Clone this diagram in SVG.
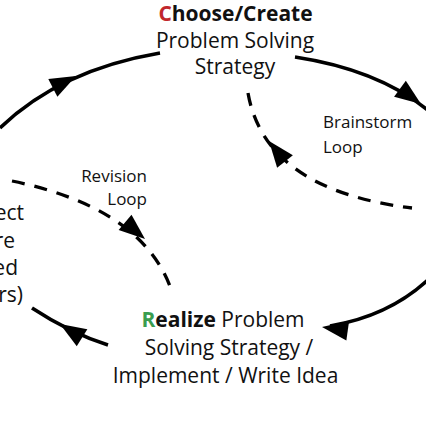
<svg xmlns="http://www.w3.org/2000/svg" xmlns:xlink="http://www.w3.org/1999/xlink" width="426" height="426" viewBox="0 0 426 426">
  <style>
    .t { font-family: "Open Sans", "Noto Sans", sans-serif; font-size: 21px; fill: #111; }
    .s { font-family: "Open Sans", "Noto Sans", sans-serif; font-size: 17px; fill: #111; }
    .b { font-weight: bold; }
    .solid { fill: none; stroke: #000; stroke-width: 3.6; stroke-linecap: butt; }
    .dash { fill: none; stroke: #000; stroke-width: 3.3; stroke-dasharray: 13 10; }
    .head { fill: #000; }
  </style>
  <defs>
    <path id="ah" class="head" d="M0,0 L-26,-10 L-26,10 Z"/>
  </defs>
  <rect width="426" height="426" fill="#fff"/>

  <g id="connectors">
    <path class="solid" d="M0 128 Q60 70 160 53"/>
    <use xlink:href="#ah" transform="translate(76,76) rotate(-27)"/>
    <path class="solid" d="M295 57 Q380 70 430 112"/>
    <use xlink:href="#ah" transform="translate(421,104) rotate(36)"/>
    <path class="solid" d="M430 278 Q390 316 330 326"/>
    <use xlink:href="#ah" transform="translate(322,327) rotate(188)"/>
    <path class="solid" d="M108 345 Q70 333 32 308"/>
    <use xlink:href="#ah" transform="translate(60,324) rotate(-148)"/>
    <path class="dash" d="M248 93 Q265 190 412 208"/>
    <use xlink:href="#ah" transform="translate(269,141) rotate(-128)"/>
    <path class="dash" d="M12 181 C80 195 150 225 172 292"/>
    <use xlink:href="#ah" transform="translate(145,239) rotate(40)"/>
  </g>

  <g id="node-choose">
    <text class="t b" x="235.5" y="21" text-anchor="middle"><tspan fill="#c1272d">C</tspan>hoose/Create</text>
    <text class="t" x="235" y="48" text-anchor="middle">Problem Solving</text>
    <text class="t" x="235" y="74" text-anchor="middle">Strategy</text>
  </g>

  <g id="node-realize">
    <text class="t" x="223" y="327" text-anchor="middle"><tspan class="b" fill="#3a9d4f">R</tspan><tspan class="b">ealize</tspan> Problem</text>
    <text class="t" x="229" y="355" text-anchor="middle">Solving Strategy /</text>
    <text class="t" x="225.5" y="383" text-anchor="middle">Implement / Write Idea</text>
  </g>

  <g id="node-left">
    <text class="t" x="24" y="220" text-anchor="end">ect</text>
    <text class="t" x="15" y="248" text-anchor="end">re</text>
    <text class="t" x="18" y="275" text-anchor="end">ed</text>
    <text class="t" x="23" y="302" text-anchor="end">rs)</text>
  </g>

  <g id="label-brainstorm">
    <text class="s" x="323" y="128">Brainstorm</text>
    <text class="s" x="323" y="153">Loop</text>
  </g>

  <g id="label-revision">
    <text class="s" x="147" y="182" text-anchor="end">Revision</text>
    <text class="s" x="147" y="205" text-anchor="end">Loop</text>
  </g>
</svg>
